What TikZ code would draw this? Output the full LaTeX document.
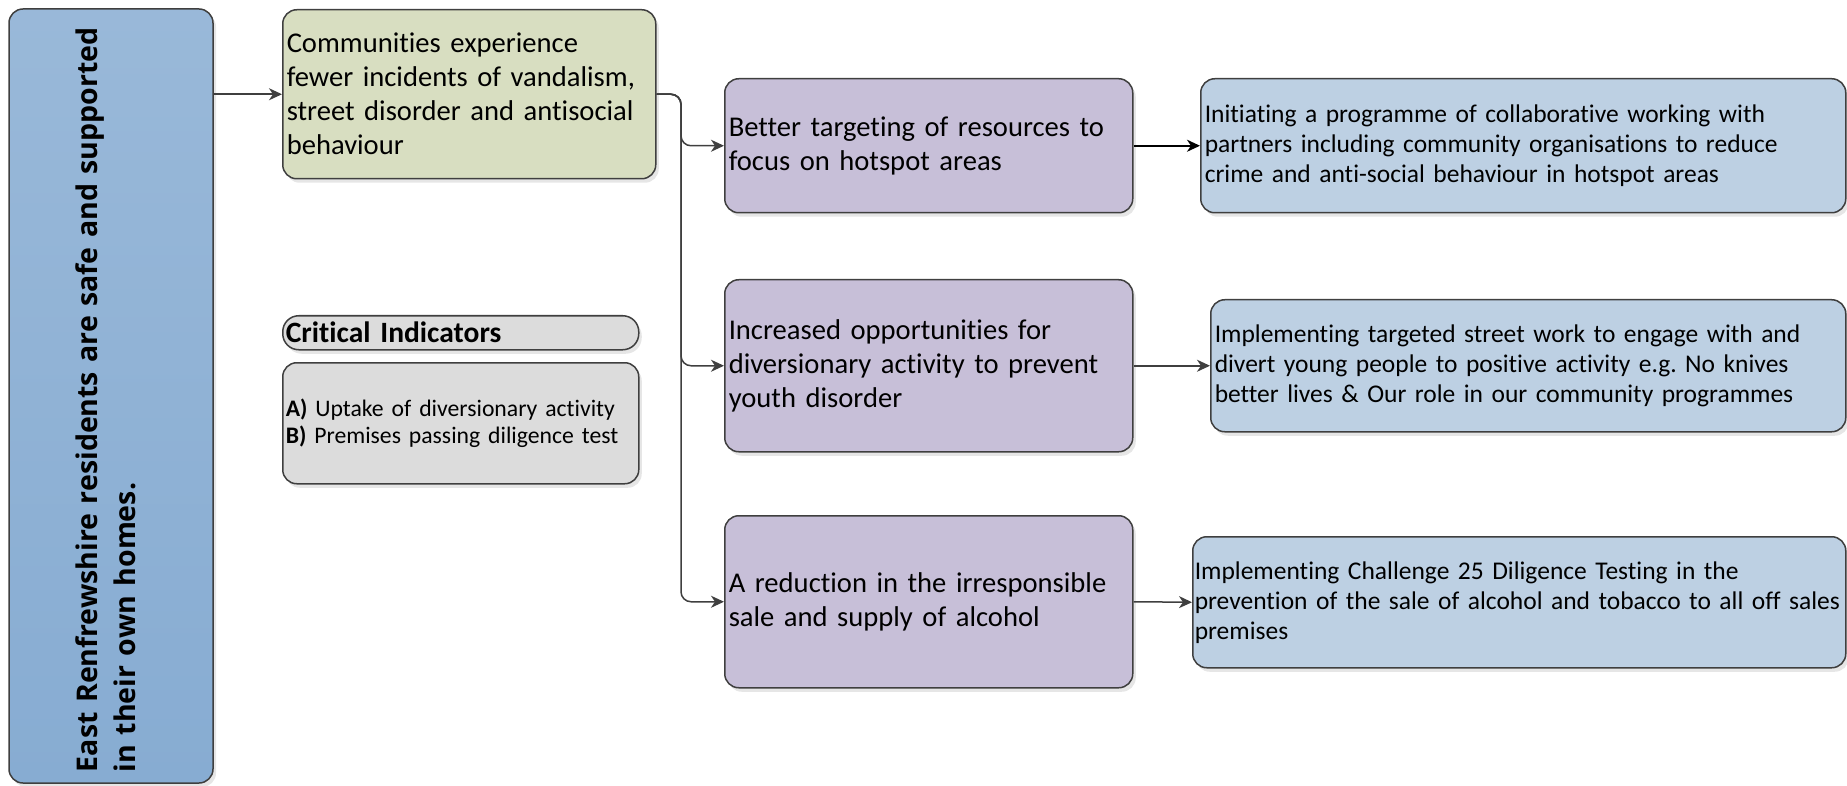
\documentclass[tikz,border=0pt]{standalone}
\usepackage{fontspec}
\setmainfont{Carlito}[Ligatures=CommonOff]
\newfontfamily\goalfont{Open Sans}
\usetikzlibrary{arrows.meta,shadows}
\frenchspacing

\definecolor{goalblue}{HTML}{87ACD2}
\definecolor{outgreen}{HTML}{D8DEC1}
\definecolor{outpurple}{HTML}{C7BFD8}
\definecolor{actblue}{HTML}{BDD0E3}
\definecolor{indgray}{HTML}{DCDCDC}
\definecolor{edgegray}{HTML}{3F3F3F}

\tikzset{
  box/.style={draw=edgegray, line width=1.5pt, rounded corners=14pt, anchor=north west,
    align=left, inner xsep=4pt, inner ysep=0pt,
    drop shadow={shadow xshift=3pt, shadow yshift=-4pt, opacity=0.2}},
  outcome/.style={box, font=\fontsize{28.6}{34}\selectfont},
  action/.style={box, fill=actblue, font=\fontsize{25.5}{30}\selectfont},
  arr/.style={draw=edgegray, line width=1.5pt, -{Stealth[length=13pt,width=12pt,inset=4pt]}},
}

\begin{document}
\begin{tikzpicture}[x=1pt,y=-1pt]
  \useasboundingbox (0,0) rectangle (1847,786);

  % goal
  \node (goal) [box, anchor=center, rotate=90, left color=goalblue!85!white, right color=goalblue,
    shading angle=0, text width=752pt, minimum height=204pt, inner xsep=11pt,
    font=\goalfont\bfseries\fontsize{28.5}{38}\selectfont]
    at (111,396) {East Renfrewshire residents are safe and supported\\in their own homes.\vphantom{\rule[-10pt]{0pt}{1pt}}};

  % outcomes
  \node (comm) [outcome, fill=outgreen, text width=365pt, minimum height=169pt] at (282,9)
    {Communities experience\\fewer incidents of vandalism,\\street disorder and antisocial\\behaviour};
  \node (crit) [box, fill=indgray, rounded corners=16pt, text width=350pt, minimum height=34pt,
    inner xsep=3pt, font=\bfseries\fontsize{29.5}{32}\selectfont] at (282,315) {Critical Indicators};
  \node (ind) [box, fill=indgray, text width=350pt, minimum height=121pt, inner xsep=3pt,
    font=\fontsize{23.7}{27}\selectfont] at (282,362)
    {\textbf{A)} Uptake of diversionary activity\\\textbf{B)} Premises passing diligence test};

  \node (p1) [outcome, fill=outpurple, text width=400pt, minimum height=134pt] at (724,78)
    {Better targeting of resources to\\focus on hotspot areas};
  \node (p2) [outcome, fill=outpurple, text width=400pt, minimum height=172pt] at (724,279)
    {Increased opportunities for\\diversionary activity to prevent\\youth disorder};
  \node (p3) [outcome, fill=outpurple, text width=400pt, minimum height=172pt] at (724,515)
    {A reduction in the irresponsible\\sale and supply of alcohol};

  % actions
  \node (b1) [action, text width=637pt, minimum height=134pt] at (1200,78)
    {Initiating a programme of collaborative working with\\partners including community organisations to reduce\\crime and anti-social behaviour in hotspot areas};
  \node (b2) [action, text width=627pt, minimum height=132pt] at (1210,299)
    {Implementing targeted street work to engage with and\\divert young people to positive activity e.g. No knives\\better lives \& Our role in our community programmes};
  \node (b3) [action, text width=649pt, minimum height=131pt, inner xsep=2pt] at (1192,536)
    {Implementing Challenge 25 Diligence Testing in the\\prevention of the sale of alcohol and tobacco to all off sales\\premises};

  % connectors
  \coordinate (trunk) at (681,0);
  \draw [arr] (goal.south |- comm.west) -- (comm.west);
  \draw [arr, rounded corners=10pt] (comm.east) -| (trunk |- p1.west) -- (p1.west);
  \draw [arr, rounded corners=10pt] (comm.east) -| (trunk |- p2.west) -- (p2.west);
  \draw [arr, rounded corners=10pt] (comm.east) -| (trunk |- p3.west) -- (p3.west);
  \draw [arr, draw=black, line width=2pt] (p1.east) -- (b1.west);
  \draw [arr] (p2.east) -- (b2.west);
  \draw [arr] (p3.east) -- (b3.west);
\end{tikzpicture}
\end{document}
